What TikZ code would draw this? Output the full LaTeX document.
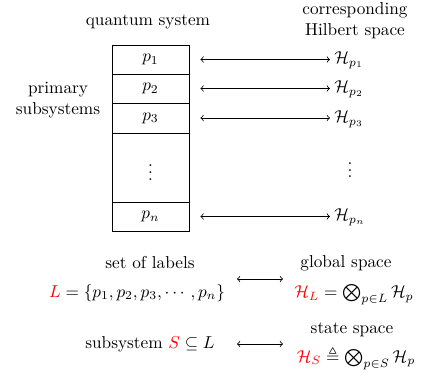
\documentclass[tikz,border=0pt]{standalone}
\usepackage{amsmath,amssymb}
\begin{document}
\def\u{0.58pt}
\begin{tikzpicture}[x=0.58pt,y=-0.58pt,
  rowbox/.style={draw,line width=0.45pt,minimum width=77*\u,inner sep=0pt},
  lbl/.style={inner sep=0pt,align=center},
  hsp/.style={inner sep=0pt,anchor=west},
  conn/.style={<->,line width=0.45pt,shorten <=11*\u,shorten >=4*\u}]
\useasboundingbox (0,0) rectangle (431,377);
% box rows
\node[rowbox,minimum height=29*\u] (r1) at (150.5,59.5) {$p_1$};
\node[rowbox,minimum height=29*\u] (r2) at (150.5,88.5) {$p_2$};
\node[rowbox,minimum height=30*\u] (r3) at (150.5,118) {$p_3$};
\node[rowbox,minimum height=69*\u] (rd) at (150.5,167.5) {$\vdots$};
\node[rowbox,minimum height=29*\u] (rn) at (150.5,216.5) {$p_n$};
% headings
\node[lbl] (qs) at (148,22) {quantum system};
\node[lbl] (chs) at (355,21) {corresponding\\Hilbert space};
\node[lbl] (ps) at (58,100) {primary\\subsystems};
% Hilbert spaces
\node[hsp] (h1) at (334,60) {$\mathcal{H}_{p_1}$};
\node[hsp] (h2) at (334,89) {$\mathcal{H}_{p_2}$};
\node[hsp] (h3) at (334,119) {$\mathcal{H}_{p_3}$};
\node[lbl] (hd) at (350,165) {$\vdots$};
\node[hsp] (hn) at (334,217) {$\mathcal{H}_{p_n}$};
\foreach \r/\h in {r1/h1,r2/h2,r3/h3,rn/hn}
  \draw[conn] (\r.east) -- (\r.east -| \h.west);
% bottom
\node[lbl] (sol) at (150,263) {set of labels};
\node[lbl] (lset) at (137,293) {$\color{red}L\color{black} = \{p_1,p_2,p_3,\cdots,p_n\}$};
\node[lbl] (gs) at (346,263) {global space};
\node[lbl] (hl) at (354,295) {$\color{red}\mathcal{H}_L\color{black} = \bigotimes_{p\in L}\mathcal{H}_p$};
\coordinate (a1) at (237,279);
\coordinate (b1) at (283,279);
\draw[<->,line width=0.45pt] (a1) -- (b1);
\node[lbl] (sub) at (150,344) {subsystem $\color{red}S\color{black}\subseteq L$};
\node[lbl] (ss) at (352,330) {state space};
\node[lbl] (hs) at (356,358) {$\color{red}\mathcal{H}_S\color{black} \triangleq \bigotimes_{p\in S}\mathcal{H}_p$};
\coordinate (a2) at (237,344);
\coordinate (b2) at (283,344);
\draw[<->,line width=0.45pt] (a2) -- (b2);
\end{tikzpicture}
\end{document}
